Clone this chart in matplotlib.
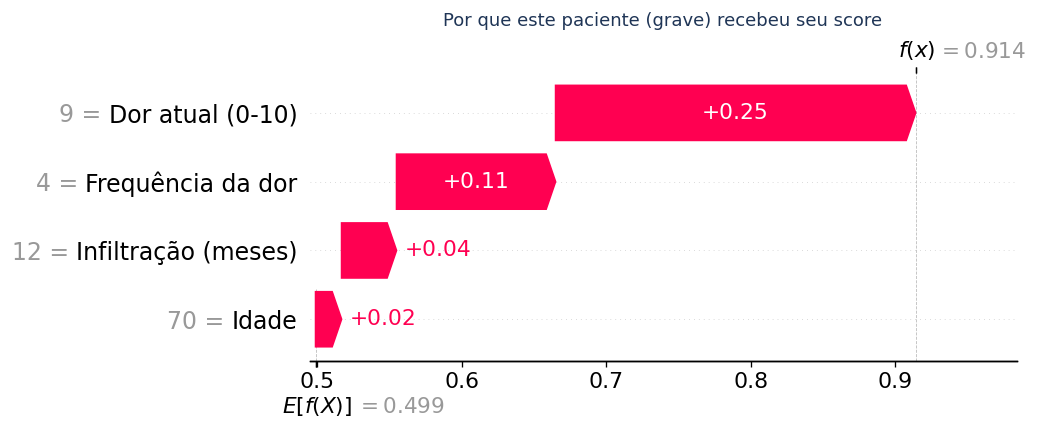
import matplotlib
matplotlib.use("Agg")
import matplotlib.pyplot as plt
import matplotlib.transforms as mtransforms
import numpy as np

# ---- data ----
feature_names = ["Dor atual (0-10)", "Frequência da dor", "Infiltração (meses)", "Idade"]
feature_values = ["9", "4", "12", "70"]
shap_values = [0.249, 0.110, 0.038, 0.018]
base_value = 0.499
title = "Por que este paciente (grave) recebeu seu score"

RED = "#ff0051"
GRAY = "#999999"
DPI = 118
FS_BAR = 13.3
FS_LBL = 14.4
FS_TICK = 13.4
FS_EF = 13.2

fig = plt.figure(figsize=(1039 / DPI, 432 / DPI), dpi=DPI)
ax = fig.add_axes([310 / 1039, 71.5 / 432, 706.7 / 1039, 287.5 / 432])

n = len(feature_names)
rows = np.arange(n - 1, -1, -1)  # top feature first
fx = base_value + sum(shap_values)
xmin, xmax = 0.49516, 0.98389
ax.set_xlim(xmin, xmax)
ax.set_ylim(-0.6, 3.58)

bar_width = 0.8
width_in = ax.get_position().width * fig.get_figwidth()
bbox_to_xscale = (xmax - xmin) / width_in
hl_scaled = bbox_to_xscale * 0.08

# grid lines per row
for r in rows:
    ax.axhline(r, color="#cccccc", lw=0.5, dashes=(1, 5), zorder=-1)

# vertical reference lines
ax.axvline(base_value, 0, 1 / n, color="#bbbbbb", linestyle="--", linewidth=0.5, zorder=-1)
ax.axvline(fx, 0, 1, color="#bbbbbb", linestyle="--", linewidth=0.5, zorder=-1)

fig.canvas.draw()
renderer = fig.canvas.get_renderer()

loc = fx
for i in range(n):
    sval = shap_values[i]
    loc -= sval
    left = loc
    dist = sval
    arrow = ax.arrow(left, rows[i], max(dist - hl_scaled, 1e-6), 0,
                     head_length=min(dist, hl_scaled), color=RED,
                     width=bar_width, head_width=bar_width)
    txt = ax.text(left + 0.5 * dist, rows[i], "%+0.2f" % sval,
                  ha="center", va="center", color="white", fontsize=FS_BAR)
    tb = txt.get_window_extent(renderer=renderer)
    ab = arrow.get_window_extent(renderer=renderer)
    if tb.width > ab.width:
        txt.remove()
        ax.text(left + (5 / 72) * bbox_to_xscale + dist, rows[i], "%+0.2f" % sval,
                ha="left", va="center", color=RED, fontsize=FS_BAR)

# y tick labels: black feature names, gray value prefix
ax.set_yticks(list(rows), labels=feature_names, fontsize=FS_LBL)
ax.yaxis.set_ticks_position("none")
ax.xaxis.set_ticks_position("bottom")
ax.tick_params(axis="x", labelsize=FS_TICK)
ax.tick_params(axis="y", pad=4.0)
for s in ["right", "top", "left"]:
    ax.spines[s].set_visible(False)

fig.canvas.draw()
axbb = ax.get_window_extent(renderer=renderer)
blend = mtransforms.blended_transform_factory(ax.transAxes, ax.transData)
for tl, r, v in zip(ax.yaxis.get_majorticklabels(), rows, feature_values):
    bb = tl.get_window_extent(renderer=renderer)
    xfrac = (bb.x0 - axbb.x0) / axbb.width
    ax.text(xfrac, r, f"{v} = ", transform=blend, ha="right", va="center_baseline",
            fontsize=FS_LBL, color=GRAY, clip_on=False)

# E[f(X)] tick marks and labels below the axis
ax2 = ax.twiny()
ax2.set_xlim(xmin, xmax)
ax2.set_xticks([base_value, base_value + 1e-8])
ax2.set_xticklabels(["", ""])
ax2.xaxis.set_ticks_position("bottom")
for s in ["right", "top", "left"]:
    ax2.spines[s].set_visible(False)
xblend = mtransforms.blended_transform_factory(ax.transData, ax.transAxes)
ax.annotate("$E[f(X)]$", xy=(base_value, 0), xycoords=xblend, xytext=(-20.3, -32),
            textcoords="offset points", ha="left", va="baseline", fontsize=FS_EF,
            color="black", annotation_clip=False)
ax.annotate("$ = %0.3f$" % base_value, xy=(base_value, 0), xycoords=xblend, xytext=(24.6, -32),
            textcoords="offset points", ha="left", va="baseline", fontsize=FS_EF,
            color=GRAY, annotation_clip=False)

# f(x) labels
ax3 = ax2.twiny()
ax3.set_xlim(xmin, xmax)
ax3.set_xticks([fx, fx + 1e-8])
ax3.set_xticklabels(["$f(x)$", "$ = %0.3f$" % fx], fontsize=FS_EF, ha="left")
tls = ax3.xaxis.get_majorticklabels()
tls[0].set_transform(tls[0].get_transform() + mtransforms.ScaledTranslation(-11 / 72., 0, fig.dpi_scale_trans))
tls[1].set_transform(tls[1].get_transform() + mtransforms.ScaledTranslation(13.3 / 72., 0, fig.dpi_scale_trans))
tls[1].set_color(GRAY)
for s in ["right", "top", "left"]:
    ax3.spines[s].set_visible(False)

fig.text(663 / 1039, 1 - 25.7 / 432, title, ha="center", va="baseline",
         fontsize=11.0, color="#1f3556")

fig.savefig("out.png", dpi=DPI)
